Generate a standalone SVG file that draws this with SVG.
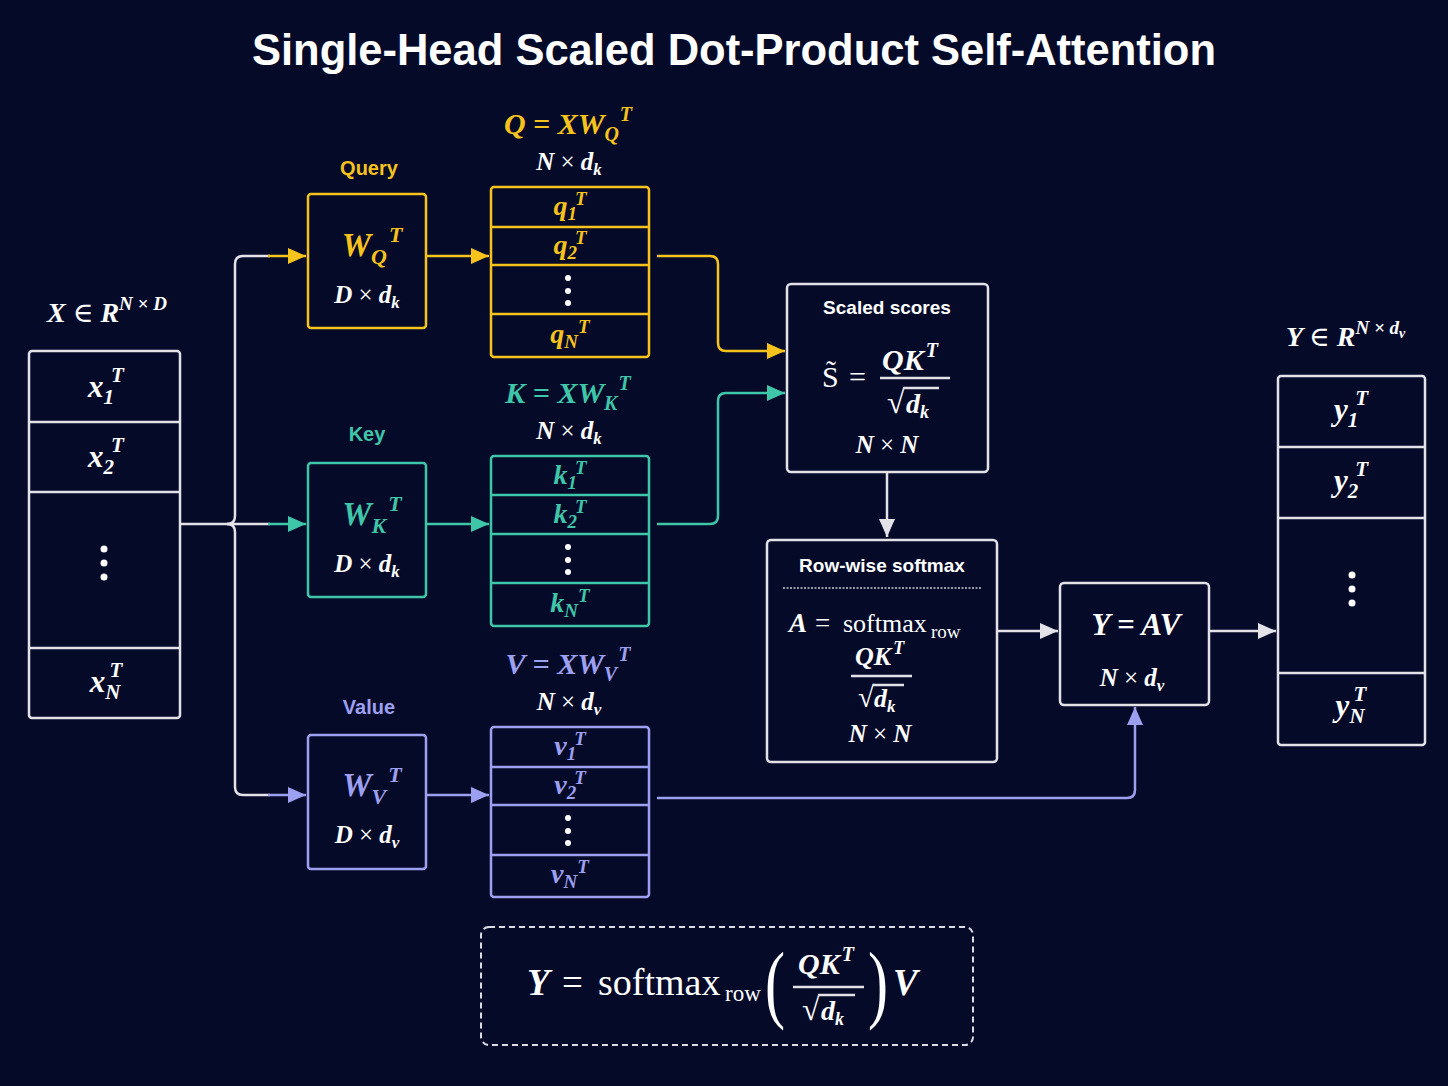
<svg xmlns="http://www.w3.org/2000/svg" width="1448" height="1086" viewBox="0 0 1448 1086">
<defs>
<style>
.mb{font-family:"Liberation Serif","DejaVu Serif",serif;font-style:italic;font-weight:bold;}
.rm{font-family:"Liberation Serif","DejaVu Serif",serif;font-style:normal;font-weight:normal;}
.sn{font-family:"Liberation Sans",Arial,sans-serif;font-weight:bold;}
.wt{fill:#ffffff;}
.yl{fill:#f6c21c;}
.tl{fill:#3fc6a9;}
.lv{fill:#9da0f0;}
.box{fill:none;stroke-width:2.5;}
.sw{stroke:#e2e2e8;}
.sy{stroke:#f6c21c;}
.st{stroke:#3fc6a9;}
.sl{stroke:#9da0f0;}
.ln{fill:none;stroke-width:2.5;}
.dot{fill:#ffffff;}
</style>
<marker id="aw" markerUnits="userSpaceOnUse" markerWidth="18" markerHeight="16" refX="18" refY="8" orient="auto"><path d="M0,0 L18,8 L0,16 z" fill="#e2e2e8"/></marker>
<marker id="ay" markerUnits="userSpaceOnUse" markerWidth="18" markerHeight="16" refX="18" refY="8" orient="auto"><path d="M0,0 L18,8 L0,16 z" fill="#f6c21c"/></marker>
<marker id="at" markerUnits="userSpaceOnUse" markerWidth="18" markerHeight="16" refX="18" refY="8" orient="auto"><path d="M0,0 L18,8 L0,16 z" fill="#3fc6a9"/></marker>
<marker id="al" markerUnits="userSpaceOnUse" markerWidth="18" markerHeight="16" refX="18" refY="8" orient="auto"><path d="M0,0 L18,8 L0,16 z" fill="#9da0f0"/></marker>
</defs>
<rect x="0" y="0" width="1448" height="1086" fill="#060a29"/>

<text x="734" y="65" text-anchor="middle" class="sn wt" font-size="45" textLength="964" lengthAdjust="spacingAndGlyphs">Single-Head Scaled Dot-Product Self-Attention</text>

<!-- connectors -->
<g id="connectors">
<path class="ln sw" d="M180 524 L270 524"/>
<path class="ln st" d="M268 524 L306 524" marker-end="url(#at)"/>
<path class="ln sw" d="M227 524 Q235 524 235 516 L235 264 Q235 256 243 256 L270 256"/>
<path class="ln sy" d="M268 256 L306 256" marker-end="url(#ay)"/>
<path class="ln sw" d="M227 524 Q235 524 235 532 L235 787 Q235 795 243 795 L270 795"/>
<path class="ln sl" d="M268 795 L306 795" marker-end="url(#al)"/>
<path class="ln sy" d="M426 256 L489 256" marker-end="url(#ay)"/>
<path class="ln st" d="M426 524 L489 524" marker-end="url(#at)"/>
<path class="ln sl" d="M426 795 L489 795" marker-end="url(#al)"/>
<path class="ln sy" d="M657 256 L710 256 Q718 256 718 264 L718 343 Q718 351 726 351 L785 351" marker-end="url(#ay)"/>
<path class="ln st" d="M657 524 L710 524 Q718 524 718 516 L718 401 Q718 393 726 393 L785 393" marker-end="url(#at)"/>
<path class="ln sw" d="M887 472 L887 537" marker-end="url(#aw)"/>
<path class="ln sw" d="M997 631 L1058 631" marker-end="url(#aw)"/>
<path class="ln sw" d="M1209 631 L1276 631" marker-end="url(#aw)"/>
<path class="ln sl" d="M657 798 L1127 798 Q1135 798 1135 790 L1135 707" marker-end="url(#al)"/>
</g>

<!-- X matrix -->
<g id="x-matrix">
<text x="47" y="322" class="mb wt" font-size="28">X <tspan class="rm">∈</tspan> R<tspan font-size="19" dy="-12">N × D</tspan></text>
<rect x="29" y="351" width="151" height="367" rx="3" class="box sw"/>
<line x1="30" y1="422" x2="179" y2="422" class="ln sw" stroke-width="2"/>
<line x1="30" y1="492" x2="179" y2="492" class="ln sw" stroke-width="2"/>
<line x1="30" y1="648" x2="179" y2="648" class="ln sw" stroke-width="2"/>
<text x="106" y="397" text-anchor="middle" class="mb wt" font-size="31">x<tspan font-size="21" dy="7">1</tspan><tspan font-size="21" dx="-3" dy="-22">T</tspan></text>
<text x="106" y="467" text-anchor="middle" class="mb wt" font-size="31">x<tspan font-size="21" dy="7">2</tspan><tspan font-size="21" dx="-3" dy="-22">T</tspan></text>
<circle cx="104" cy="549" r="3.5" class="dot"/><circle cx="104" cy="563" r="3.5" class="dot"/><circle cx="104" cy="577" r="3.5" class="dot"/>
<text x="106" y="692" text-anchor="middle" class="mb wt" font-size="31">x<tspan font-size="21" dy="7">N</tspan><tspan font-size="21" dx="-11" dy="-22">T</tspan></text>
</g>

<!-- Query weight -->
<g id="query-weight">
<text x="369" y="175" text-anchor="middle" class="sn yl" font-size="20">Query</text>
<rect x="308" y="194" width="118" height="134" rx="3" class="box sy"/>
<text x="372" y="256" text-anchor="middle" class="mb yl" font-size="33">W<tspan font-size="22" dy="8">Q</tspan><tspan font-size="22" dx="2" dy="-22">T</tspan></text>
<text x="367" y="303" text-anchor="middle" class="mb wt" font-size="25">D <tspan class="rm">×</tspan> d<tspan font-size="17" dy="5">k</tspan></text>
</g>

<!-- Q matrix -->
<g id="q-matrix">
<text x="568" y="134" text-anchor="middle" class="mb yl" font-size="30">Q = XW<tspan font-size="20" dy="7">Q</tspan><tspan font-size="20" dx="1" dy="-20">T</tspan></text>
<text x="569" y="170" text-anchor="middle" class="mb wt" font-size="25">N <tspan class="rm">×</tspan> d<tspan font-size="17" dy="5">k</tspan></text>
<rect x="491" y="187" width="158" height="170" rx="3" class="box sy"/>
<line x1="492" y1="227" x2="648" y2="227" class="ln sy" stroke-width="2"/>
<line x1="492" y1="265" x2="648" y2="265" class="ln sy" stroke-width="2"/>
<line x1="492" y1="314" x2="648" y2="314" class="ln sy" stroke-width="2"/>
<text x="570" y="215" text-anchor="middle" class="mb yl" font-size="28">q<tspan font-size="19" dy="5">1</tspan><tspan font-size="19" dx="-2" dy="-15">T</tspan></text>
<text x="570" y="254" text-anchor="middle" class="mb yl" font-size="28">q<tspan font-size="19" dy="5">2</tspan><tspan font-size="19" dx="-2" dy="-15">T</tspan></text>
<circle cx="568" cy="278" r="3" class="dot"/><circle cx="568" cy="291" r="3" class="dot"/><circle cx="568" cy="303" r="3" class="dot"/>
<text x="570" y="343" text-anchor="middle" class="mb yl" font-size="28">q<tspan font-size="19" dy="5">N</tspan><tspan font-size="19" dx="0" dy="-15">T</tspan></text>
</g>

<!-- Key weight -->
<g id="key-weight">
<text x="367" y="441" text-anchor="middle" class="sn tl" font-size="20">Key</text>
<rect x="308" y="463" width="118" height="134" rx="3" class="box st"/>
<text x="372" y="525" text-anchor="middle" class="mb tl" font-size="33">W<tspan font-size="22" dy="8">K</tspan><tspan font-size="22" dx="2" dy="-22">T</tspan></text>
<text x="367" y="572" text-anchor="middle" class="mb wt" font-size="25">D <tspan class="rm">×</tspan> d<tspan font-size="17" dy="5">k</tspan></text>
</g>

<!-- K matrix -->
<g id="k-matrix">
<text x="568" y="403" text-anchor="middle" class="mb tl" font-size="30">K = XW<tspan font-size="20" dy="7">K</tspan><tspan font-size="20" dx="1" dy="-20">T</tspan></text>
<text x="569" y="439" text-anchor="middle" class="mb wt" font-size="25">N <tspan class="rm">×</tspan> d<tspan font-size="17" dy="5">k</tspan></text>
<rect x="491" y="456" width="158" height="170" rx="3" class="box st"/>
<line x1="492" y1="495" x2="648" y2="495" class="ln st" stroke-width="2"/>
<line x1="492" y1="534" x2="648" y2="534" class="ln st" stroke-width="2"/>
<line x1="492" y1="583" x2="648" y2="583" class="ln st" stroke-width="2"/>
<text x="570" y="484" text-anchor="middle" class="mb tl" font-size="28">k<tspan font-size="19" dy="5">1</tspan><tspan font-size="19" dx="-2" dy="-15">T</tspan></text>
<text x="570" y="523" text-anchor="middle" class="mb tl" font-size="28">k<tspan font-size="19" dy="5">2</tspan><tspan font-size="19" dx="-2" dy="-15">T</tspan></text>
<circle cx="568" cy="547" r="3" class="dot"/><circle cx="568" cy="560" r="3" class="dot"/><circle cx="568" cy="572" r="3" class="dot"/>
<text x="570" y="612" text-anchor="middle" class="mb tl" font-size="28">k<tspan font-size="19" dy="5">N</tspan><tspan font-size="19" dx="0" dy="-15">T</tspan></text>
</g>

<!-- Value weight -->
<g id="value-weight">
<text x="369" y="714" text-anchor="middle" class="sn lv" font-size="20">Value</text>
<rect x="308" y="735" width="118" height="134" rx="3" class="box sl"/>
<text x="372" y="796" text-anchor="middle" class="mb lv" font-size="33">W<tspan font-size="22" dy="8">V</tspan><tspan font-size="22" dx="2" dy="-22">T</tspan></text>
<text x="367" y="843" text-anchor="middle" class="mb wt" font-size="25">D <tspan class="rm">×</tspan> d<tspan font-size="17" dy="5">v</tspan></text>
</g>

<!-- V matrix -->
<g id="v-matrix">
<text x="568" y="674" text-anchor="middle" class="mb lv" font-size="30">V = XW<tspan font-size="20" dy="7">V</tspan><tspan font-size="20" dx="1" dy="-20">T</tspan></text>
<text x="569" y="710" text-anchor="middle" class="mb wt" font-size="25">N <tspan class="rm">×</tspan> d<tspan font-size="17" dy="5">v</tspan></text>
<rect x="491" y="727" width="158" height="170" rx="3" class="box sl"/>
<line x1="492" y1="767" x2="648" y2="767" class="ln sl" stroke-width="2"/>
<line x1="492" y1="805" x2="648" y2="805" class="ln sl" stroke-width="2"/>
<line x1="492" y1="855" x2="648" y2="855" class="ln sl" stroke-width="2"/>
<text x="570" y="755" text-anchor="middle" class="mb lv" font-size="28">v<tspan font-size="19" dy="5">1</tspan><tspan font-size="19" dx="-2" dy="-15">T</tspan></text>
<text x="570" y="794" text-anchor="middle" class="mb lv" font-size="28">v<tspan font-size="19" dy="5">2</tspan><tspan font-size="19" dx="-2" dy="-15">T</tspan></text>
<circle cx="568" cy="818" r="3" class="dot"/><circle cx="568" cy="831" r="3" class="dot"/><circle cx="568" cy="843" r="3" class="dot"/>
<text x="570" y="883" text-anchor="middle" class="mb lv" font-size="28">v<tspan font-size="19" dy="5">N</tspan><tspan font-size="19" dx="0" dy="-15">T</tspan></text>
</g>

<!-- Scaled scores -->
<g id="scaled-scores">
<rect x="787" y="284" width="201" height="188" rx="4" class="box sw"/>
<text x="887" y="314" text-anchor="middle" class="sn wt" font-size="19">Scaled scores</text>
<text x="822" y="387" class="rm wt" font-size="30" font-weight="bold">S̃</text>
<text x="849" y="387" class="rm wt" font-size="30" font-weight="bold">=</text>
<text x="882" y="370" class="mb wt" font-size="30">QK<tspan font-size="20" dx="2" dy="-13">T</tspan></text>
<line x1="880" y1="378" x2="950" y2="378" class="ln sw" stroke-width="2"/>
<text x="887" y="413" class="rm wt" font-size="32">√</text>
<line x1="903" y1="388" x2="939" y2="388" class="ln sw" stroke-width="1.8"/>
<text x="906" y="413" class="mb wt" font-size="28">d<tspan font-size="18" dy="5">k</tspan></text>
<text x="887" y="453" text-anchor="middle" class="mb wt" font-size="25">N <tspan class="rm">×</tspan> N</text>
</g>

<!-- Row-wise softmax -->
<g id="row-softmax">
<rect x="767" y="540" width="230" height="222" rx="4" class="box sw"/>
<text x="882" y="572" text-anchor="middle" class="sn wt" font-size="19">Row-wise softmax</text>
<line x1="783" y1="588" x2="981" y2="588" stroke="#c8c8d0" stroke-width="1.5" stroke-dasharray="2 1.5"/>
<text x="789" y="632" class="mb wt" font-size="27">A</text>
<text x="815" y="632" class="rm wt" font-size="27" font-weight="bold">=</text>
<text x="843" y="632" class="rm wt" font-size="26">softmax</text>
<text x="931" y="638" class="rm wt" font-size="19">row</text>
<text x="855" y="665" class="mb wt" font-size="26">QK<tspan font-size="18" dx="2" dy="-11">T</tspan></text>
<line x1="851" y1="676" x2="912" y2="676" class="ln sw" stroke-width="2"/>
<text x="858" y="707" class="rm wt" font-size="29">√</text>
<line x1="873" y1="685" x2="904" y2="685" class="ln sw" stroke-width="1.6"/>
<text x="874" y="707" class="mb wt" font-size="26">d<tspan font-size="17" dy="5">k</tspan></text>
<text x="880" y="742" text-anchor="middle" class="mb wt" font-size="25">N <tspan class="rm">×</tspan> N</text>
</g>

<!-- Y = AV -->
<g id="y-av">
<rect x="1060" y="583" width="149" height="122" rx="4" class="box sw"/>
<text x="1136" y="635" text-anchor="middle" class="mb wt" font-size="31">Y = AV</text>
<text x="1132" y="686" text-anchor="middle" class="mb wt" font-size="25">N <tspan class="rm">×</tspan> d<tspan font-size="17" dy="5">v</tspan></text>
</g>

<!-- Y matrix -->
<g id="y-matrix">
<text x="1286" y="346" class="mb wt" font-size="28">Y <tspan class="rm">∈</tspan> R<tspan font-size="19" dy="-12">N × d</tspan><tspan font-size="14" dy="4">v</tspan></text>
<rect x="1278" y="376" width="147" height="369" rx="3" class="box sw"/>
<line x1="1279" y1="447" x2="1424" y2="447" class="ln sw" stroke-width="2"/>
<line x1="1279" y1="518" x2="1424" y2="518" class="ln sw" stroke-width="2"/>
<line x1="1279" y1="673" x2="1424" y2="673" class="ln sw" stroke-width="2"/>
<text x="1351" y="420" text-anchor="middle" class="mb wt" font-size="31">y<tspan font-size="21" dy="7">1</tspan><tspan font-size="21" dx="-3" dy="-22">T</tspan></text>
<text x="1351" y="491" text-anchor="middle" class="mb wt" font-size="31">y<tspan font-size="21" dy="7">2</tspan><tspan font-size="21" dx="-3" dy="-22">T</tspan></text>
<circle cx="1352" cy="575" r="3.5" class="dot"/><circle cx="1352" cy="589" r="3.5" class="dot"/><circle cx="1352" cy="603" r="3.5" class="dot"/>
<text x="1351" y="716" text-anchor="middle" class="mb wt" font-size="31">y<tspan font-size="21" dy="7">N</tspan><tspan font-size="21" dx="-11" dy="-22">T</tspan></text>
</g>

<!-- Formula -->
<g id="formula">
<rect x="481" y="927" width="492" height="118" rx="8" fill="none" stroke="#dcdce4" stroke-width="2" stroke-dasharray="6 4"/>
<text x="527" y="995" class="mb wt" font-size="37">Y</text>
<text x="562" y="995" class="rm wt" font-size="37" font-weight="bold">=</text>
<text x="598" y="995" class="rm wt" font-size="38">softmax</text>
<text x="725" y="1001" class="rm wt" font-size="23">row</text>
<text x="765" y="1012" class="rm wt" font-size="86" transform="translate(765 0) scale(0.7 1) translate(-765 0)">(</text>
<text x="798" y="974" class="mb wt" font-size="30">QK<tspan font-size="20" dx="2" dy="-13">T</tspan></text>
<line x1="793" y1="987" x2="864" y2="987" class="ln sw" stroke-width="2"/>
<text x="802" y="1020" class="rm wt" font-size="32">√</text>
<line x1="818" y1="995" x2="855" y2="995" class="ln sw" stroke-width="1.8"/>
<text x="821" y="1020" class="mb wt" font-size="28">d<tspan font-size="18" dy="5">k</tspan></text>
<text x="868" y="1012" class="rm wt" font-size="86" transform="translate(868 0) scale(0.7 1) translate(-868 0)">)</text>
<text x="893" y="995" class="mb wt" font-size="37">V</text>
</g>
</svg>
